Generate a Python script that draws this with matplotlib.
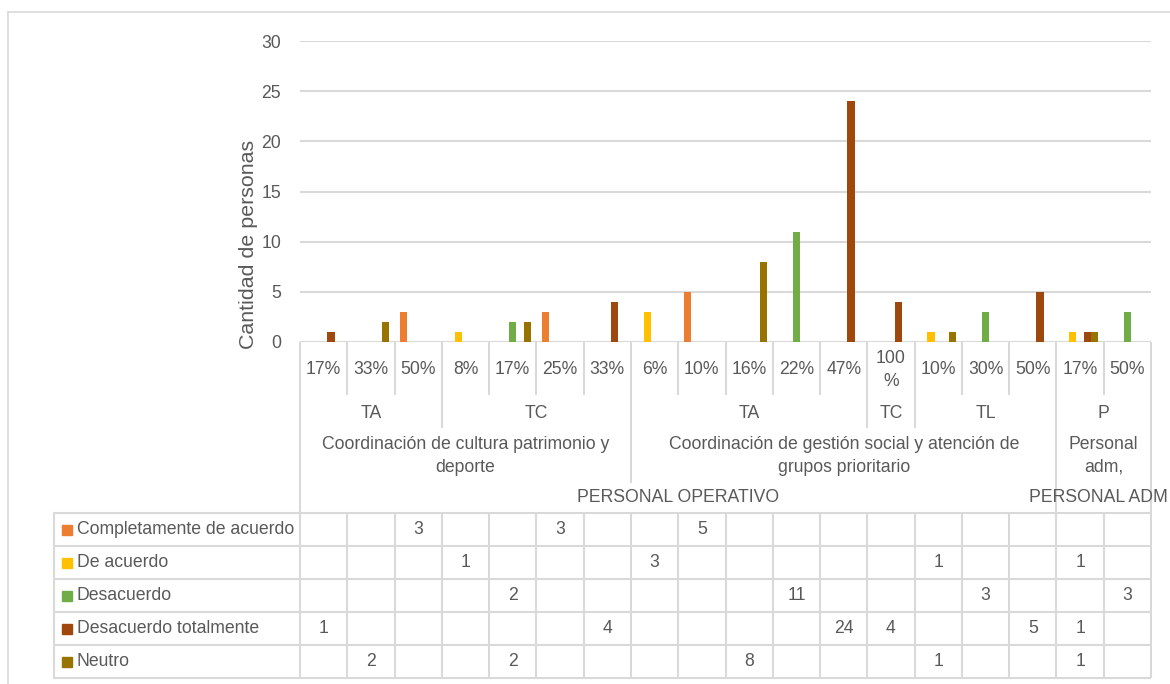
import numpy as np
import matplotlib
matplotlib.use("Agg")
import matplotlib.pyplot as plt
from matplotlib import font_manager, transforms
from matplotlib.patches import Rectangle

# ---- data -------------------------------------------------------------
pct_labels = ['17%', '33%', '50%', '8%', '17%', '25%', '33%', '6%', '10%',
              '16%', '22%', '47%', '100\n%', '10%', '30%', '50%', '17%', '50%']
tipo_groups = [('TA', 0, 2), ('TC', 3, 6), ('TA', 7, 11), ('TC', 12, 12),
               ('TL', 13, 15), ('P', 16, 17)]
area_groups = [('Coordinación de cultura patrimonio y\ndeporte', 0, 6),
               ('Coordinación de gestión social y atención de\ngrupos prioritario', 7, 15),
               ('Personal\nadm,', 16, 17)]
personal_groups = [('PERSONAL OPERATIVO', 0, 15), ('PERSONAL ADM', 16, 17)]

series_names = ['Completamente de acuerdo', 'De acuerdo', 'Desacuerdo',
                'Desacuerdo totalmente', 'Neutro']
series_colors = ['#ED7D31', '#FFC000', '#70AD47', '#9E480E', '#997300']

N = None
completamente = [N, N, 3, N, N, 3, N, N, 5, N, N, N, N, N, N, N, N, N]
de_acuerdo    = [N, N, N, 1, N, N, N, 3, N, N, N, N, N, 1, N, N, 1, N]
desacuerdo    = [N, N, N, N, 2, N, N, N, N, N, 11, N, N, N, 3, N, N, 3]
desacuerdo_tot = [1, N, N, N, N, N, 4, N, N, N, N, 24, 4, N, N, 5, 1, N]
neutro        = [N, 2, N, N, 2, N, N, N, N, 8, N, N, N, 1, N, N, 1, N]
series_values = [completamente, de_acuerdo, desacuerdo, desacuerdo_tot, neutro]

yticks = [0, 5, 10, 15, 20, 25, 30]

# ---- style ------------------------------------------------------------
available = {f.name for f in font_manager.fontManager.ttflist}
if 'Liberation Sans Narrow' in available:
    FAMILY = ['Liberation Sans Narrow', 'DejaVu Sans']
    FS, FS_LABEL = 15, 18.5
else:
    FAMILY = ['Liberation Sans', 'DejaVu Sans']
    FS, FS_LABEL = 12.7, 15.4
plt.rcParams['font.family'] = FAMILY
TXT = '#595959'
GRID = '#d9d9d9'
LW = 1.5

W, H = 1170, 684
fig = plt.figure(figsize=(W / 100, H / 100), dpi=100)

# plot area in pixel coordinates
PL, PR, PT, PB = 300, 1151, 41, 342
ax = fig.add_axes([PL / W, 1 - PB / H, (PR - PL) / W, (PB - PT) / H])
ncat = len(pct_labels)
x = np.arange(ncat)
nser = len(series_names)
bw = 1 / (nser + 1.5)
for k, (name, vals, col) in enumerate(zip(series_names, series_values, series_colors)):
    h = np.array([np.nan if v is None else v for v in vals], dtype=float)
    ax.bar(x + (k - (nser - 1) / 2) * bw, h, width=bw, color=col, zorder=3,
           label=name)
ax.set_xlim(-0.5, ncat - 0.5)
ax.set_ylim(0, 30)
ax.set_yticks(yticks)
ax.set_xticks([])
ax.yaxis.grid(True, color=GRID, lw=LW, zorder=0)
ax.set_axisbelow(True)
for s in ax.spines.values():
    s.set_visible(False)
ax.tick_params(axis='y', length=0, pad=13.5, labelsize=FS, labelcolor=TXT)

# overlay in pixel coordinates for the category hierarchy and the data table
ov = fig.add_axes([0, 0, 1, 1], zorder=-1)
ov.set_xlim(0, W)
ov.set_ylim(H, 0)
ov.axis('off')
bt = transforms.blended_transform_factory(ax.transData, ov.transData)

def vline(xd, y0, y1):
    ov.plot([xd, xd], [y0, y1], color=GRID, lw=LW, transform=bt,
            solid_capstyle='butt', clip_on=False)

# chart frame
ov.plot([8, 8], [12, H + 5], color=GRID, lw=1.2)
ov.plot([8, W + 5], [12, 12], color=GRID, lw=1.2)

ov.text(249, 244, 'Cantidad de personas', rotation=90, ha='center',
        va='center', fontsize=FS_LABEL, color=TXT)

# hierarchy separators
Y1, Y2, Y3, Y4 = 395, 428, 483, 513
tipo_b = {g[1] for g in tipo_groups[1:]}
area_b = {g[1] for g in area_groups[1:]}
pers_b = {g[1] for g in personal_groups[1:]}
for i in range(1, ncat):
    if i in pers_b:
        yend = Y4
    elif i in area_b:
        yend = Y3
    elif i in tipo_b:
        yend = Y2
    else:
        yend = Y1
    vline(i - 0.5, PB, yend)

# category labels
for i, lab in enumerate(pct_labels):
    ov.text(i, 370, lab, transform=bt, ha='center', va='center',
            fontsize=FS, color=TXT, linespacing=1.45)
for lab, a, b in tipo_groups:
    ov.text((a + b) / 2, 413, lab, transform=bt, ha='center', va='center',
            fontsize=FS, color=TXT)
for lab, a, b in area_groups:
    ov.text((a + b) / 2, 456, lab, transform=bt, ha='center', va='center',
            fontsize=FS, color=TXT, linespacing=1.45)
for lab, a, b in personal_groups:
    if b == ncat - 1:
        # last label runs up to the right edge of the chart
        ov.text(W - 2, 497, lab, ha='right', va='center',
                fontsize=FS, color=TXT)
    else:
        ov.text((a + b) / 2, 497, lab, transform=bt, ha='center',
                va='center', fontsize=FS, color=TXT)

# data table
TL = 54
row_h = 33
rows_top = [Y4 + r * row_h for r in range(nser + 1)]
xr_pix = ax.transData.transform((ncat - 0.5, 0))[0]
for yy in rows_top:
    ov.plot([TL, xr_pix], [yy, yy], color=GRID, lw=LW, solid_capstyle='butt')
ov.plot([TL, TL], [rows_top[0], rows_top[-1]], color=GRID, lw=LW)
for i in range(ncat + 1):
    if i in (0, ncat):
        vline(i - 0.5, PB, rows_top[-1])
    else:
        vline(i - 0.5, rows_top[0], rows_top[-1])

for r, (name, vals, col) in enumerate(zip(series_names, series_values, series_colors)):
    yc = rows_top[r] + row_h / 2
    ov.add_patch(Rectangle((62, yc - 5), 10, 10, color=col))
    ov.text(77, yc, name, ha='left', va='center', fontsize=FS, color=TXT)
    for i, v in enumerate(vals):
        if v is not None:
            ov.text(i, yc, str(v), transform=bt, ha='center', va='center',
                    fontsize=FS, color=TXT)

fig.savefig('out.png', dpi=100)
